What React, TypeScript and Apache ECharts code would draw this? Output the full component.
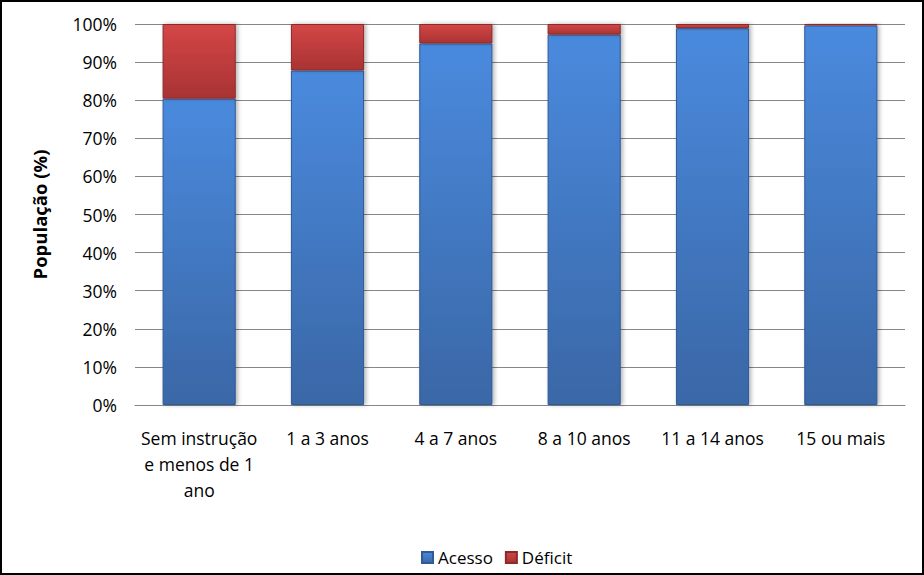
import React, { useEffect, useRef } from "react";
import * as echarts from "echarts";

const categories = ["Sem instrução\ne menos de 1\nano", "1 a 3 anos", "4 a 7 anos", "8 a 10 anos", "11 a 14 anos", "15 ou mais"];
const acesso = [80.4, 87.8, 94.9, 97.2, 98.9, 99.6];
const deficit = [19.6, 12.2, 5.1, 2.8, 1.1, 0.4];
const yTicks = [0, 10, 20, 30, 40, 50, 60, 70, 80, 90, 100];

const FONT = "'Open Sans', Lato, sans-serif";

export default function App() {
  const ref = useRef<HTMLDivElement>(null);
  useEffect(() => {
    if (!ref.current) return;
    const chart = echarts.init(ref.current, null, { renderer: "svg" });
    const blue = new echarts.graphic.LinearGradient(0, 0, 0, 1, [
      { offset: 0, color: "#4a8ade" },
      { offset: 1, color: "#3a67a6" },
    ]);
    const red = new echarts.graphic.LinearGradient(0, 0, 0, 1, [
      { offset: 0, color: "#d44646" },
      { offset: 1, color: "#a93333" },
    ]);
    chart.setOption({
      animation: false,
      textStyle: { fontFamily: FONT },
      grid: { left: 135, right: 19, top: 24, bottom: 170 },
      legend: {
        bottom: 4,
        left: 416,
        itemWidth: 11,
        itemHeight: 11,
        itemGap: 12,
        textStyle: { fontSize: 17, color: "#000", fontFamily: FONT },
        data: [
          { name: "Acesso", icon: "rect" },
          { name: "Déficit", icon: "rect" },
        ],
      },
      xAxis: {
        type: "category",
        data: categories,
        axisLine: { lineStyle: { color: "#868686", width: 1 } },
        axisTick: { show: false },
        axisLabel: { fontSize: 17.5, color: "#000", margin: 20, lineHeight: 26, interval: 0, fontFamily: FONT },
      },
      yAxis: {
        type: "value",
        min: 0,
        max: 100,
        interval: 10,
        name: "População (%)",
        nameLocation: "middle",
        nameGap: 86,
        nameTextStyle: { fontSize: 18.5, fontWeight: "bold", color: "#000", fontFamily: FONT },
        axisLine: { show: false },
        axisTick: { show: false },
        splitLine: { lineStyle: { color: "#868686", width: 1 } },
        axisLabel: {
          fontSize: 17.5,
          color: "#000",
          margin: 18,
          fontFamily: FONT,
          formatter: (v: number) => (yTicks.includes(v) ? v + "%" : ""),
        },
      },
      series: [
        {
          name: "Acesso",
          type: "bar",
          stack: "total",
          barWidth: "57%",
          data: acesso,
          itemStyle: {
            color: blue,
            borderColor: "#2f5a95",
            borderWidth: 1,
            shadowColor: "rgba(0,0,0,0.3)",
            shadowBlur: 4,
            shadowOffsetX: 2,
          },
        },
        {
          name: "Déficit",
          type: "bar",
          stack: "total",
          barWidth: "57%",
          data: deficit,
          itemStyle: {
            color: red,
            borderColor: "#8a2a2a",
            borderWidth: 1,
            shadowColor: "rgba(0,0,0,0.3)",
            shadowBlur: 4,
            shadowOffsetX: 2,
          },
        },
      ],
    });
    return () => chart.dispose();
  }, []);
  return (
    <div
      style={{
        position: "fixed",
        left: 0,
        top: 0,
        width: 924,
        height: 575,
        background: "#fff",
        boxSizing: "border-box",
        border: "2px solid #000",
      }}
    >
      <div ref={ref} style={{ position: "absolute", left: -2, top: -2, width: 924, height: 575 }} />
    </div>
  );
}
